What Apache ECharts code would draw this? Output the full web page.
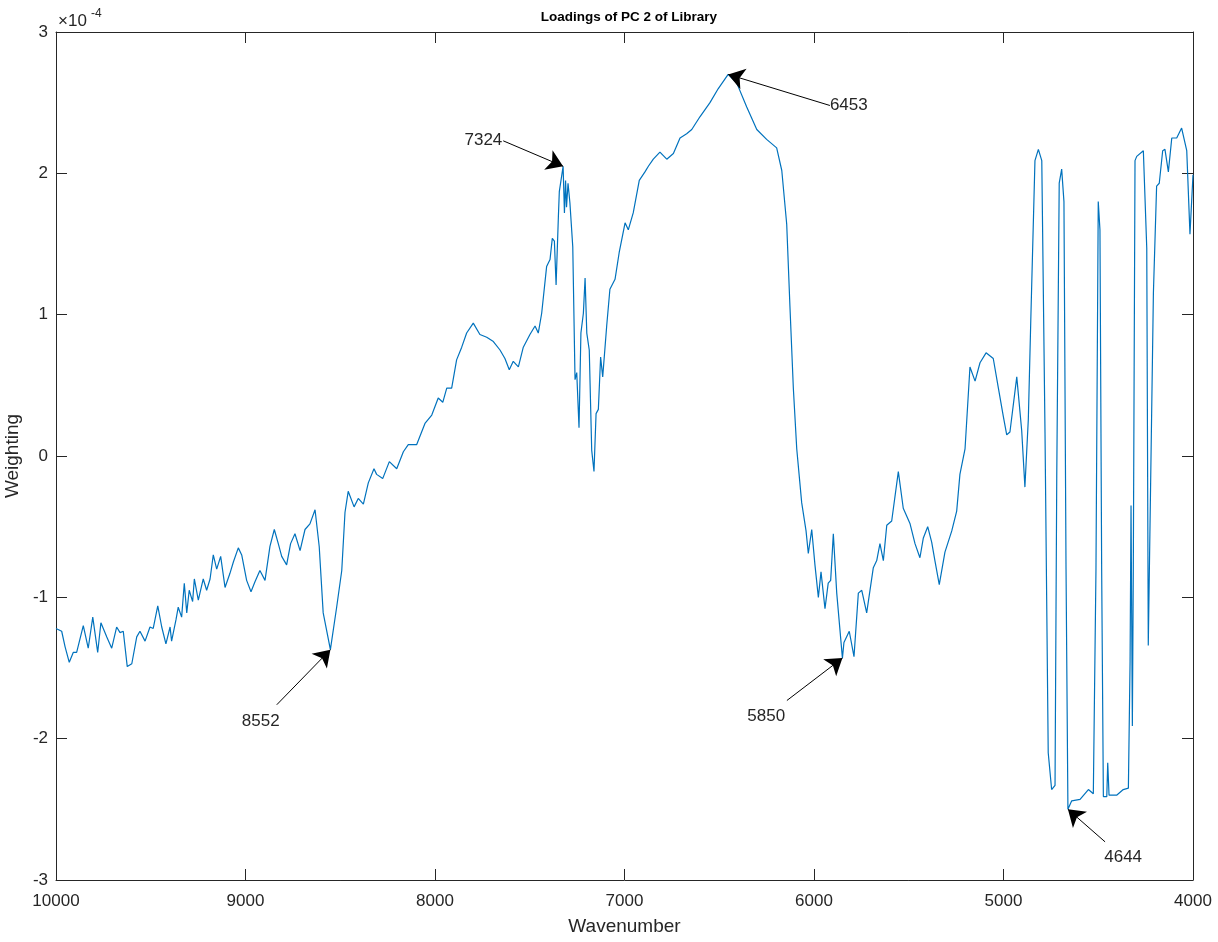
<!DOCTYPE html>
<html>
<head>
<meta charset="utf-8">
<title>Loadings of PC 2 of Library</title>
<script src="https://cdn.jsdelivr.net/npm/echarts@6/dist/echarts.min.js"></script>
<style>
  html, body { margin: 0; padding: 0; background: #fff; }
  #chart { width: 1218px; height: 942px; }
</style>
</head>
<body>
<div id="chart"></div>
<script>
var wavenumbers = [
  10000, 9970, 9952, 9930, 9909, 9891, 9856, 9830, 9806, 9780, 9763, 9732, 9706, 9680, 9662, 9645,
  9624, 9600, 9574, 9557, 9530, 9504, 9487, 9463, 9442, 9420, 9398, 9390, 9367, 9355, 9337, 9323,
  9310, 9297, 9279, 9270, 9249, 9223, 9205, 9187, 9170, 9152, 9131, 9108, 9082, 9064, 9038, 9020,
  8994, 8971, 8950, 8924, 8897, 8871, 8848, 8827, 8809, 8783, 8762, 8739, 8712, 8686, 8660, 8633,
  8611, 8590, 8552, 8519, 8492, 8475, 8458, 8427, 8405, 8378, 8352, 8322, 8308, 8276, 8241, 8202,
  8167, 8141, 8097, 8053, 8017, 7983, 7959, 7938, 7912, 7886, 7859, 7833, 7798, 7763, 7727, 7692,
  7657, 7631, 7608, 7587, 7560, 7534, 7499, 7472, 7455, 7437, 7411, 7393, 7381, 7370, 7361, 7349,
  7344, 7324, 7317, 7311, 7306, 7298, 7288, 7273, 7261, 7252, 7240, 7230, 7217, 7208, 7199, 7186,
  7173, 7161, 7150, 7138, 7126, 7115, 7094, 7077, 7050, 7028, 6997, 6980, 6954, 6922, 6892, 6874,
  6848, 6813, 6777, 6742, 6707, 6672, 6645, 6602, 6549, 6505, 6453, 6408, 6355, 6302, 6250, 6197,
  6170, 6144, 6127, 6109, 6091, 6065, 6042, 6030, 6012, 5995, 5977, 5963, 5942, 5925, 5912, 5898,
  5880, 5850, 5842, 5814, 5789, 5766, 5748, 5722, 5687, 5669, 5652, 5634, 5616, 5590, 5555, 5529,
  5493, 5467, 5441, 5423, 5400, 5379, 5362, 5339, 5309, 5273, 5247, 5230, 5203, 5177, 5150, 5124,
  5092, 5054, 5027, 5001, 4983, 4966, 4930, 4904, 4887, 4869, 4856, 4834, 4816, 4798, 4781, 4764,
  4746, 4728, 4719, 4706, 4693, 4681, 4670, 4660, 4640, 4596, 4552, 4526, 4512, 4500, 4491, 4482,
  4473, 4455, 4450, 4443, 4403, 4368, 4341, 4332, 4327, 4320, 4315, 4306, 4297, 4262, 4244, 4236,
  4209, 4192, 4178, 4160, 4148, 4130, 4112, 4086, 4060, 4033, 4016, 4000
];

// PC 2 loading, in units of 1e-4
var loadings = [
  -1.22, -1.24, -1.35, -1.46, -1.39, -1.39, -1.20, -1.36, -1.14, -1.39, -1.18, -1.28, -1.36, -1.21, -1.25, -1.24,
  -1.49, -1.47, -1.28, -1.24, -1.31, -1.21, -1.22, -1.06, -1.21, -1.33, -1.21, -1.31, -1.16, -1.07, -1.14, -0.90,
  -1.11, -0.95, -1.03, -0.87, -1.02, -0.87, -0.95, -0.87, -0.70, -0.80, -0.71, -0.93, -0.83, -0.75, -0.65, -0.70,
  -0.88, -0.96, -0.89, -0.81, -0.88, -0.64, -0.52, -0.62, -0.71, -0.77, -0.62, -0.55, -0.67, -0.52, -0.48, -0.38,
  -0.64, -1.11, -1.37, -1.07, -0.81, -0.40, -0.25, -0.36, -0.30, -0.34, -0.19, -0.09, -0.13, -0.16, -0.04, -0.09,
  0.03, 0.08, 0.08, 0.23, 0.29, 0.41, 0.38, 0.48, 0.48, 0.68, 0.77, 0.87, 0.94, 0.86, 0.84, 0.81,
  0.75, 0.69, 0.61, 0.67, 0.63, 0.77, 0.86, 0.92, 0.87, 1.01, 1.34, 1.39, 1.54, 1.52, 1.21, 1.69,
  1.87, 2.05, 1.72, 1.95, 1.76, 1.93, 1.79, 1.48, 0.54, 0.59, 0.20, 0.87, 1.01, 1.26, 0.87, 0.75,
  0.04, -0.11, 0.30, 0.33, 0.70, 0.56, 0.92, 1.18, 1.25, 1.44, 1.65, 1.60, 1.72, 1.95, 2.01, 2.05,
  2.10, 2.15, 2.10, 2.14, 2.25, 2.28, 2.31, 2.40, 2.50, 2.60, 2.70, 2.64, 2.47, 2.31, 2.24, 2.18,
  2.02, 1.64, 1.06, 0.48, 0.05, -0.33, -0.53, -0.69, -0.52, -0.77, -1.00, -0.82, -1.08, -0.90, -0.88, -0.55,
  -0.97, -1.43, -1.32, -1.24, -1.42, -0.97, -0.95, -1.11, -0.79, -0.74, -0.62, -0.74, -0.49, -0.46, -0.11, -0.37,
  -0.48, -0.62, -0.72, -0.58, -0.50, -0.61, -0.74, -0.91, -0.68, -0.53, -0.39, -0.13, 0.05, 0.63, 0.53, 0.66,
  0.73, 0.69, 0.48, 0.28, 0.15, 0.17, 0.56, 0.18, -0.22, 0.26, 0.96, 2.09, 2.17, 2.09, 0.17, -2.10,
  -2.36, -2.33, -0.15, 1.93, 2.03, 1.80, -0.80, -2.50, -2.44, -2.43, -2.36, -2.39, -0.80, 1.80, 1.60, -0.80,
  -2.41, -2.41, -2.17, -2.40, -2.40, -2.36, -2.35, -1.45, -0.35, -1.91, -0.80, 2.09, 2.12, 2.16, 1.47, -1.34,
  1.15, 1.91, 1.93, 2.16, 2.17, 2.01, 2.25, 2.25, 2.32, 2.16, 1.57, 1.99
];

var xTicks = [10000, 9000, 8000, 7000, 6000, 5000, 4000];
var yTicks = [-3, -2, -1, 0, 1, 2, 3];

// peak annotations: label, arrow tip (on the curve), arrow tail (next to the text)
var peakLabels = ['8552', '7324', '6453', '5850', '4644'];
var peakTips = [[8552, -1.37], [7324, 2.05], [6453, 2.70], [5850, -1.43], [4660, -2.50]];
var peakTails = [[8835, -1.76], [7640, 2.23], [5916, 2.48], [6143, -1.73], [4464, -2.73]];
var labelGaps = [23, 1, 0, 26, 24];

var FONT = '"Liberation Sans", Arial, Helvetica, sans-serif';
var AXIS = '#262626';

var chart = echarts.init(document.getElementById('chart'), null, { renderer: 'canvas' });

var linePoints = wavenumbers.map(function (w, i) { return [w, loadings[i]]; });

var arrows = peakLabels.map(function (name, i) {
  return [
    { name: name, coord: peakTails[i], label: { distance: labelGaps[i] } },
    { coord: peakTips[i] }
  ];
});

function plain(v) { return String(v); }

function xAxisDef(pos, showLabels) {
  return {
    type: 'value',
    position: pos,
    inverse: true,
    min: xTicks[xTicks.length - 1],
    max: xTicks[0],
    interval: 1000,
    name: showLabels ? 'Wavenumber' : '',
    nameLocation: 'middle',
    nameGap: 37,
    nameTextStyle: { fontFamily: FONT, fontSize: 19, color: AXIS },
    axisLine: { show: true, onZero: false, lineStyle: { color: AXIS, width: 1 } },
    axisTick: { show: true, inside: true, length: 11, lineStyle: { color: AXIS } },
    axisLabel: { show: showLabels, margin: 13, fontFamily: FONT, fontSize: 17, color: AXIS,
                 formatter: plain, showMinLabel: true, showMaxLabel: true },
    splitLine: { show: false }
  };
}

function yAxisDef(pos, showLabels) {
  return {
    type: 'value',
    position: pos,
    min: yTicks[0],
    max: yTicks[yTicks.length - 1],
    interval: 1,
    name: showLabels ? 'Weighting' : '',
    nameLocation: 'middle',
    nameGap: 31,
    nameTextStyle: { fontFamily: FONT, fontSize: 19, color: AXIS },
    axisLine: { show: true, onZero: false, lineStyle: { color: AXIS, width: 1 } },
    axisTick: { show: true, inside: true, length: 11, lineStyle: { color: AXIS } },
    axisLabel: { show: showLabels, margin: 8, fontFamily: FONT, fontSize: 17, color: AXIS,
                 formatter: plain, showMinLabel: true, showMaxLabel: true },
    splitLine: { show: false }
  };
}

chart.setOption({
  animation: false,
  backgroundColor: '#ffffff',
  title: {
    text: 'Loadings of PC 2 of Library',
    left: 624,
    textAlign: 'center',
    top: 5,
    textStyle: { fontFamily: FONT, fontSize: 13.5, fontWeight: 'bold', color: '#000' }
  },
  grid: { left: 56, right: 25, top: 32, bottom: 62, outerBoundsMode: 'none', containLabel: false },
  xAxis: [xAxisDef('bottom', true), xAxisDef('top', false)],
  yAxis: [yAxisDef('left', true), yAxisDef('right', false)],
  graphic: [
    { type: 'text', left: 58, top: 13,
      style: { text: '\u00d710', fontFamily: FONT, fontSize: 17, fill: AXIS } },
    { type: 'text', left: 91, top: 8,
      style: { text: '-4', fontFamily: FONT, fontSize: 12, fill: AXIS } }
  ],
  series: [{
    type: 'line',
    data: linePoints,
    showSymbol: false,
    smooth: false,
    lineStyle: { color: '#0072BD', width: 1.2 },
    itemStyle: { color: '#0072BD' },
    markLine: {
      silent: true,
      symbol: ['none', 'arrow'],
      symbolSize: 16,
      lineStyle: { color: '#000', width: 1, type: 'solid' },
      label: { show: true, position: 'start', formatter: '{b}', fontFamily: FONT, fontSize: 17, color: '#262626' },
      emphasis: { disabled: true },
      data: arrows
    }
  }]
});
</script>
</body>
</html>
